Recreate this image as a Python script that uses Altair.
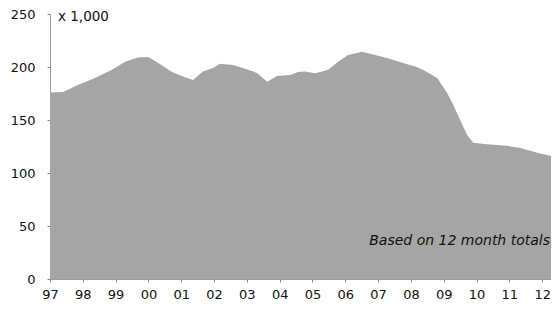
import altair as alt
import pandas as pd

# traced top edge of the area (year, thousands)
years = [1997.0, 1997.4, 1997.85, 1998.37, 1998.89, 1999.29, 1999.68, 1999.99,
         2000.29, 2000.72, 2001.05, 2001.36, 2001.66, 2001.97, 2002.18, 2002.58,
         2002.88, 2003.31, 2003.62, 2003.92, 2004.32, 2004.56, 2004.77, 2005.08,
         2005.48, 2005.78, 2006.09, 2006.51, 2006.91, 2007.3, 2007.73, 2008.13,
         2008.37, 2008.8, 2009.1, 2009.29, 2009.5, 2009.71, 2009.9, 2010.32,
         2010.93, 2011.33, 2011.85, 2012.34, 2012.52]
values = [176, 176.5, 183, 189.7, 197.3, 205, 209, 209.5,
          204, 195.4, 191, 187.8, 195.7, 199, 203, 202,
          199, 194.4, 186, 191.6, 192.5, 195.4, 195.7, 194,
          197.3, 205, 211.4, 214.5, 211.4, 208.3, 203.9, 200.4,
          197.3, 189.7, 175.6, 164.3, 150, 136, 128.5, 127.2,
          125.6, 123.7, 119, 115.5, 119]

tick_years = list(range(1997, 2013))
y_ticks = [0, 50, 100, 150, 200, 250]

df = pd.DataFrame({"year": years, "value": values})

FONT = "DejaVu Sans"

area = alt.Chart(df).mark_area(color="#a5a5a5", interpolate="linear", clip=True).encode(
    x=alt.X("year:Q",
            scale=alt.Scale(domain=[1997, 2012.27], nice=False, zero=False),
            axis=alt.Axis(values=tick_years, title=None, grid=False,
                          labelExpr="(datum.value % 100 < 10 ? '0' : '') + (datum.value % 100)",
                          labelFont=FONT, labelFontSize=13, labelColor="#111",
                          labelPadding=6, tickSize=3, tickColor="#888",
                          domainColor="#999", labelFlush=False)),
    y=alt.Y("value:Q",
            scale=alt.Scale(domain=[0, 250], nice=False),
            axis=alt.Axis(values=y_ticks, title=None, grid=False,
                          labelFont=FONT, labelFontSize=13, labelColor="#111",
                          labelPadding=12, tickSize=3, tickColor="#888",
                          domainColor="#999")),
)

unit = alt.Chart(pd.DataFrame({"t": ["x 1,000"]})).mark_text(
    align="left", baseline="middle", font=FONT, fontSize=13.5, color="#111"
).encode(x=alt.value(8), y=alt.value(3), text="t:N")

note = alt.Chart(pd.DataFrame({"t": ["Based on 12 month totals"]})).mark_text(
    align="right", baseline="middle", font=FONT, fontSize=14, fontStyle="italic", color="#111"
).encode(x=alt.value(500), y=alt.value(227), text="t:N")

chart = alt.layer(area, unit, note).properties(
    width=501, height=265,
    padding={"left": 42, "top": 6, "right": 0, "bottom": 22},
    autosize=alt.AutoSizeParams(type="none"),
).configure_view(stroke=None)

chart.save("out.html", embed_options={"renderer": "svg", "actions": False})
